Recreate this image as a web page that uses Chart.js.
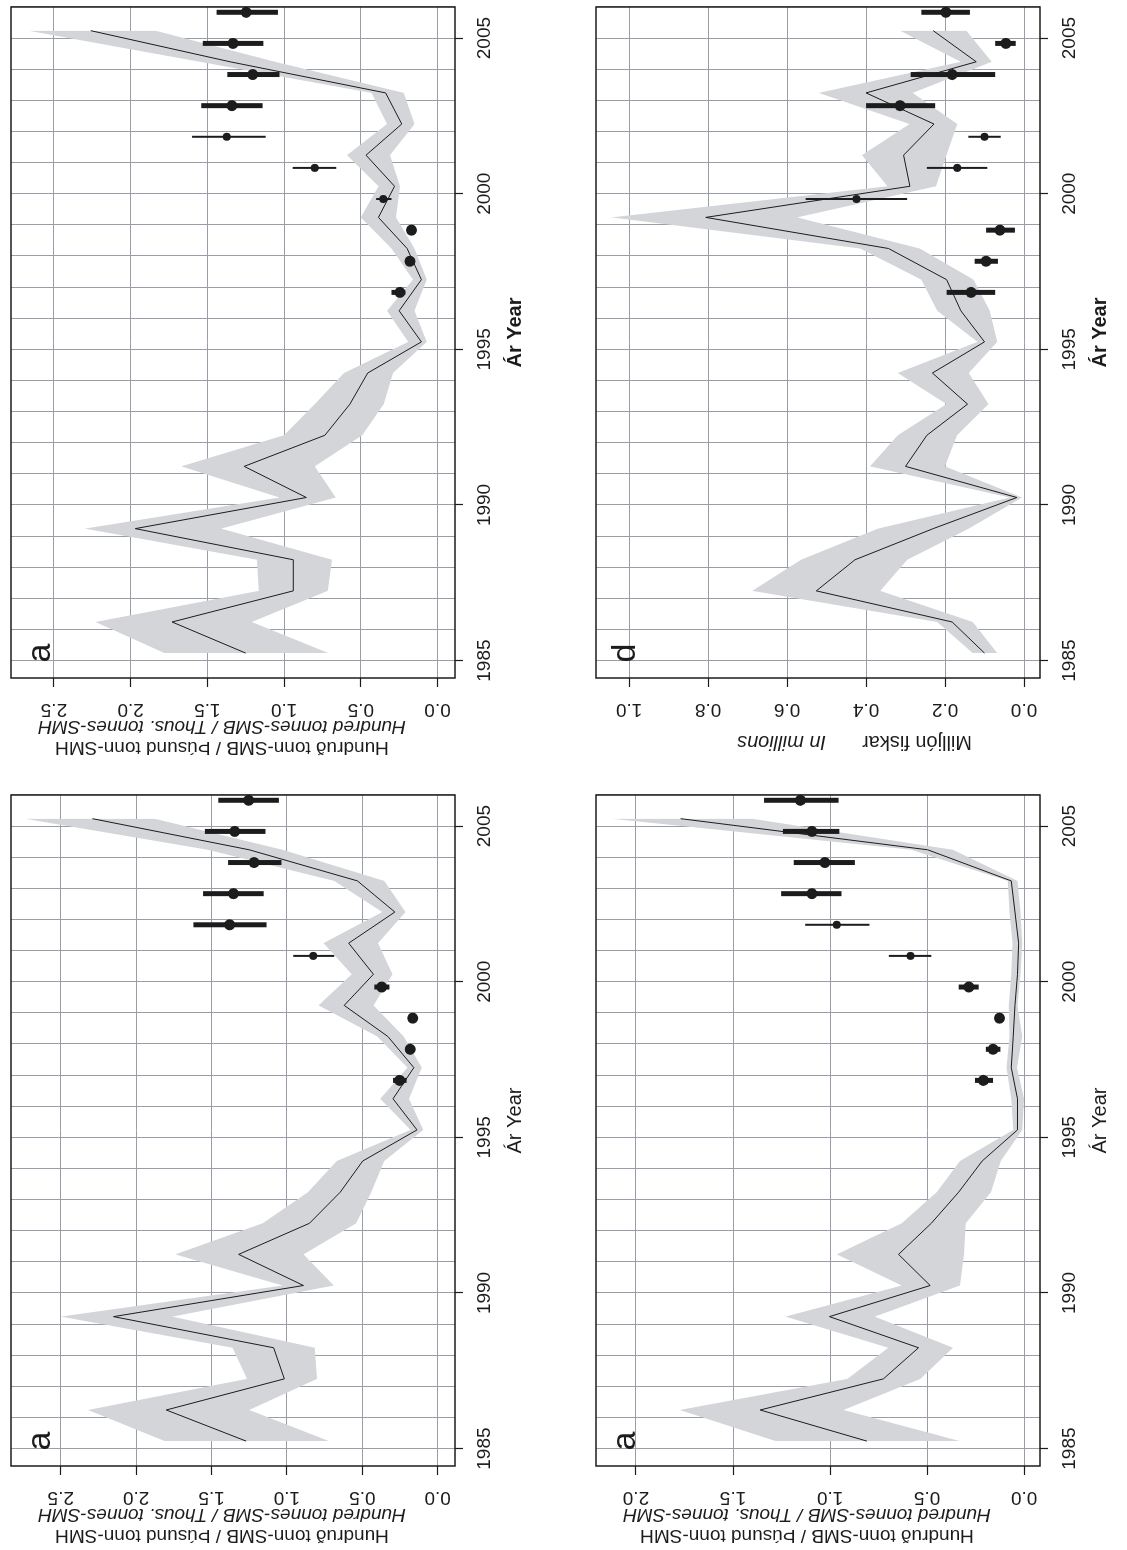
<!DOCTYPE html>
<html>
<head>
<meta charset="utf-8">
<script src="https://cdn.jsdelivr.net/npm/chart.js@4.4.1/dist/chart.umd.min.js"></script>
<style>
  html, body { margin: 0; padding: 0; background: #fff; }
  body { width: 1127px; height: 1550px; position: relative; overflow: hidden; }
  canvas { position: absolute; left: 0; top: 0; transform-origin: 0 0; }
</style>
</head>
<body>
<canvas id="panelTL" width="780" height="542"></canvas>
<canvas id="panelTR" width="780" height="542"></canvas>
<canvas id="panelBL" width="780" height="542"></canvas>
<canvas id="panelBR" width="780" height="542"></canvas>
<script>
// model years and survey years
const years = [1985, 1986, 1987, 1988, 1989, 1990, 1991, 1992, 1993, 1994, 1995,
               1996, 1997, 1998, 1999, 2000, 2001, 2002, 2003, 2004, 2005];
const surveyYears = [1997, 1998, 1999, 2000, 2001, 2002, 2003, 2004, 2005, 2006];
const yearTicks = [1985, 1990, 1995, 2000, 2005];
const yearTickLabels = ['1985', '1990', '1995', '2000', '2005'];

// panel a (top left): hundred tonnes / thousand tonnes
const tlModel = [1.25, 1.73, 0.94, 0.94, 1.97, 0.855, 1.26, 0.734, 0.571, 0.455, 0.105,
                 0.25, 0.105, 0.198, 0.385, 0.28, 0.466, 0.233, 0.338, 1.352, 2.26];
const tlUpper = [1.78, 2.23, 1.165, 1.177, 2.30, 1.03, 1.67, 1.00, 0.80, 0.61, 0.19,
                 0.33, 0.16, 0.30, 0.50, 0.385, 0.59, 0.33, 0.43, 1.55, 2.67];
const tlLower = [0.71, 1.21, 0.716, 0.688, 1.41, 0.664, 0.80, 0.49, 0.35, 0.29, 0.07,
                 0.15, 0.07, 0.15, 0.27, 0.245, 0.31, 0.15, 0.22, 1.06, 1.84];
const tlIndex = [0.245, 0.18, 0.17, 0.354, 0.80, 1.373, 1.34, 1.205, 1.333, 1.247];
const tlIndexLow = [0.21, 0.147, 0.14, 0.30, 0.66, 1.12, 1.14, 1.03, 1.135, 1.04];
const tlIndexHigh = [0.30, 0.21, 0.19, 0.40, 0.944, 1.60, 1.54, 1.37, 1.53, 1.44];
const tlValueTicks = [0, 0.5, 1.0, 1.5, 2.0, 2.5];
const tlValueLabels = ['0.0', '0.5', '1.0', '1.5', '2.0', '2.5'];

// panel d (top right): million fish
const trModel = [0.10, 0.182, 0.526, 0.428, 0.23, 0.018, 0.30, 0.246, 0.143, 0.232, 0.10,
                 0.16, 0.196, 0.343, 0.806, 0.289, 0.305, 0.228, 0.40, 0.121, 0.23];
const trUpper = [0.13, 0.22, 0.688, 0.565, 0.37, 0.036, 0.39, 0.32, 0.196, 0.32, 0.118,
                 0.22, 0.26, 0.415, 1.045, 0.346, 0.41, 0.29, 0.52, 0.16, 0.314];
const trLower = [0.068, 0.13, 0.364, 0.296, 0.14, 0.005, 0.20, 0.17, 0.09, 0.14, 0.068,
                 0.087, 0.128, 0.264, 0.574, 0.223, 0.196, 0.169, 0.282, 0.082, 0.146];
const trIndex = [0.134, 0.096, 0.061, 0.424, 0.169, 0.10, 0.314, 0.182, 0.046, 0.198];
const trIndexLow = [0.073, 0.066, 0.023, 0.296, 0.093, 0.059, 0.225, 0.073, 0.021, 0.137];
const trIndexHigh = [0.196, 0.125, 0.096, 0.553, 0.246, 0.141, 0.40, 0.287, 0.073, 0.26];
const trValueTicks = [0, 0.2, 0.4, 0.6, 0.8, 1.0];
const trValueLabels = ['0.0', '0.2', '0.4', '0.6', '0.8', '1.0'];

// panel a (bottom left)
const blModel = [1.27, 1.80, 1.017, 1.088, 2.15, 0.89, 1.32, 0.85, 0.646, 0.497, 0.137,
                 0.296, 0.158, 0.33, 0.62, 0.426, 0.59, 0.284, 0.532, 1.25, 2.29];
const blUpper = [1.81, 2.32, 1.265, 1.36, 2.50, 1.03, 1.74, 1.16, 0.86, 0.67, 0.18,
                 0.38, 0.20, 0.40, 0.79, 0.57, 0.757, 0.367, 0.686, 1.525, 2.74];
const blLower = [0.72, 1.25, 0.80, 0.816, 1.76, 0.69, 0.89, 0.54, 0.44, 0.355, 0.095,
                 0.19, 0.106, 0.225, 0.426, 0.30, 0.395, 0.213, 0.355, 1.03, 1.88];
const blIndex = [0.253, 0.182, 0.166, 0.371, 0.825, 1.38, 1.355, 1.218, 1.346, 1.254];
const blIndexLow = [0.206, 0.15, 0.14, 0.32, 0.686, 1.135, 1.154, 1.036, 1.142, 1.053];
const blIndexHigh = [0.296, 0.213, 0.19, 0.42, 0.958, 1.62, 1.556, 1.39, 1.544, 1.455];

// panel a (bottom right)
const brModel = [0.81, 1.36, 0.725, 0.544, 1.003, 0.484, 0.647, 0.478, 0.337, 0.216, 0.034,
                 0.034, 0.066, 0.056, 0.047, 0.034, 0.028, 0.047, 0.066, 0.497, 1.77];
const brUpper = [1.28, 1.775, 0.91, 0.70, 1.23, 0.63, 0.965, 0.63, 0.45, 0.33, 0.056,
                 0.066, 0.09, 0.075, 0.079, 0.066, 0.06, 0.075, 0.084, 0.58, 2.13];
const brLower = [0.33, 0.93, 0.534, 0.366, 0.77, 0.33, 0.31, 0.30, 0.17, 0.12, 0.01,
                 0.0, 0.037, 0.01, 0.034, 0.019, 0.01, 0.019, 0.034, 0.366, 1.405];
const brIndex = [0.21, 0.16, 0.127, 0.285, 0.585, 0.965, 1.093, 1.027, 1.093, 1.153];
const brIndexLow = [0.16, 0.122, 0.103, 0.234, 0.478, 0.797, 0.941, 0.872, 0.952, 0.956];
const brIndexHigh = [0.253, 0.197, 0.15, 0.337, 0.697, 1.128, 1.252, 1.187, 1.243, 1.34];
const brValueTicks = [0, 0.5, 1.0, 1.5, 2.0];
const brValueLabels = ['0.0', '0.5', '1.0', '1.5', '2.0'];

const MODEL_SHIFT = 0.24;    // model estimates sit a little past the year line
const SURVEY_SHIFT = -0.17;  // survey indices plotted just before their year
const INK = '#1c1c1c';
const GRID = 'rgb(152,157,168)';
const BAND = 'rgb(212,213,217)';
const FONT = '"Liberation Sans", Arial, Helvetica, sans-serif';

Chart.defaults.font.family = FONT;

// the plots are drawn landscape and turned a quarter turn counter-clockwise
function place(id, left, top) {
  const c = document.getElementById(id);
  c.style.transform = `translate(${left}px, ${top + 780}px) rotate(-90deg)`;
}

function textLayer(p) {
  return {
    id: 'textLayer',
    beforeDatasetDraw(chart, args) {
      if (args.index !== 3) return;
      // survey error bars under the dots
      const { ctx, scales: { x, y } } = chart;
      ctx.save();
      ctx.strokeStyle = INK;
      ctx.lineCap = 'butt';
      surveyYears.forEach((yr, i) => {
        const px = x.getPixelForValue(yr + SURVEY_SHIFT);
        ctx.lineWidth = p.thin.includes(yr) ? 2 : 5;
        ctx.beginPath();
        ctx.moveTo(px, y.getPixelForValue(p.low[i]));
        ctx.lineTo(px, y.getPixelForValue(p.high[i]));
        ctx.stroke();
      });
      ctx.restore();
    },
    afterDraw(chart) {
      const { ctx, chartArea: a, scales: { x, y } } = chart;
      ctx.save();
      ctx.strokeStyle = INK;
      ctx.lineWidth = 1.5;
      ctx.strokeRect(a.left, a.top, a.right - a.left, a.bottom - a.top);

      ctx.fillStyle = INK;
      ctx.textAlign = 'center';
      ctx.textBaseline = 'middle';

      // value labels, written along the axis
      ctx.font = `19px ${FONT}`;
      p.valueTicks.forEach((v, i) => {
        ctx.save();
        ctx.translate(71, y.getPixelForValue(v));
        ctx.rotate(-Math.PI / 2);
        ctx.fillText(p.valueLabels[i], 0, 0);
        ctx.restore();
      });

      // year labels
      yearTicks.forEach((yr, i) => {
        ctx.fillText(yearTickLabels[i], x.getPixelForValue(yr), 485);
      });

      // year axis title
      ctx.font = `${p.yearBold ? 'bold ' : ''}20px ${FONT}`;
      ctx.fillText('Ár Year', (a.left + a.right) / 2 + 10, 515);

      // value axis title pieces
      p.titles.forEach(t => {
        ctx.save();
        ctx.font = `${t.italic ? 'italic ' : ''}${t.size || 19}px ${FONT}`;
        ctx.textAlign = t.align || 'center';
        ctx.translate(t.u, t.v);
        ctx.rotate(-Math.PI / 2);
        ctx.fillText(t.text, 0, 0);
        ctx.restore();
      });

      // panel letter
      ctx.font = `34px ${FONT}`;
      ctx.fillText(p.letter, a.left + 25, a.top + 30);
      ctx.restore();
    }
  };
}

function makePanel(id, p) {
  const pts = arr => years.map((yr, i) => ({ x: yr + MODEL_SHIFT, y: arr[i] }));
  const survey = surveyYears.map((yr, i) => ({ x: yr + SURVEY_SHIFT, y: p.index[i] }));
  return new Chart(document.getElementById(id).getContext('2d'), {
    type: 'line',
    data: {
      datasets: [
        // confidence band: filled from the upper edge down to the lower edge
        { data: pts(p.upper), order: 4, fill: '+1', backgroundColor: BAND, borderColor: 'rgba(0,0,0,0)', borderWidth: 0, pointRadius: 0 },
        { data: pts(p.lower), order: 4, fill: false, borderColor: 'rgba(0,0,0,0)', borderWidth: 0, pointRadius: 0 },
        { data: pts(p.model), order: 2, fill: false, borderColor: INK, borderWidth: 1, pointRadius: 0, tension: 0 },
        {
          type: 'scatter', data: survey, order: 1, clip: false,
          backgroundColor: INK, borderWidth: 0,
          pointRadius: c => p.thin.includes(surveyYears[c.dataIndex]) ? 4 : 5.5
        }
      ]
    },
    options: {
      responsive: false,
      animation: false,
      events: [],
      layout: { padding: { top: 11, right: 7, left: 0, bottom: 0 } },
      plugins: { legend: { display: false }, tooltip: { enabled: false } },
      scales: {
        x: {
          type: 'linear', min: 1984.44, max: 2006.0,
          afterBuildTicks: s => { s.ticks = years.concat([2006]).map(v => ({ value: v })); },
          afterFit: s => { s.height = 87; },
          ticks: { display: false },
          border: { display: false },
          grid: {
            color: GRID, lineWidth: 1, tickLength: 8, tickWidth: 1.2,
            tickColor: c => (c.tick && c.tick.value % 5 === 0) ? INK : 'rgba(0,0,0,0)'
          }
        },
        y: {
          type: 'linear', min: p.yMin, max: p.yMax,
          afterBuildTicks: s => { s.ticks = p.valueTicks.map(v => ({ value: v })); },
          afterFit: s => { s.width = 102; },
          ticks: { display: false },
          border: { display: false },
          grid: { color: GRID, lineWidth: 1, tickLength: 9, tickWidth: 1.2, tickColor: INK }
        }
      }
    },
    plugins: [textLayer(p)]
  });
}

const tonnesTitle = [
  { text: 'Hundred tonnes-SMB / Thous. tonnes-SMH', italic: true, u: 54, v: 222 },
  { text: 'Hundruð tonn-SMB / Þúsund tonn-SMH', u: 33, v: 222 }
];

makePanel('panelTL', {
  model: tlModel, upper: tlUpper, lower: tlLower,
  index: tlIndex, low: tlIndexLow, high: tlIndexHigh, thin: [2000, 2001, 2002],
  yMin: -0.114, yMax: 2.78, valueTicks: tlValueTicks, valueLabels: tlValueLabels,
  titles: tonnesTitle, letter: 'a', yearBold: true
});
makePanel('panelTR', {
  model: trModel, upper: trUpper, lower: trLower,
  index: trIndex, low: trIndexLow, high: trIndexHigh, thin: [2000, 2001, 2002],
  yMin: -0.0405, yMax: 1.084, valueTicks: trValueTicks, valueLabels: trValueLabels,
  titles: [
    { text: 'Milljón fiskar', u: 38, v: 387, align: 'left', size: 20 },
    { text: 'In millions', italic: true, u: 38, v: 241, align: 'left', size: 20 }
  ],
  letter: 'd', yearBold: true
});
makePanel('panelBL', {
  model: blModel, upper: blUpper, lower: blLower,
  index: blIndex, low: blIndexLow, high: blIndexHigh, thin: [2001],
  yMin: -0.115, yMax: 2.83, valueTicks: tlValueTicks, valueLabels: tlValueLabels,
  titles: tonnesTitle, letter: 'a', yearBold: false
});
makePanel('panelBR', {
  model: brModel, upper: brUpper, lower: brLower,
  index: brIndex, low: brIndexLow, high: brIndexHigh, thin: [2001, 2002],
  yMin: -0.082, yMax: 2.206, valueTicks: brValueTicks, valueLabels: brValueLabels,
  titles: tonnesTitle, letter: 'a', yearBold: false
});

place('panelTL', 0, 0);
place('panelTR', 585, 0);
place('panelBL', 0, 788);
place('panelBR', 585, 788);
</script>
</body>
</html>
